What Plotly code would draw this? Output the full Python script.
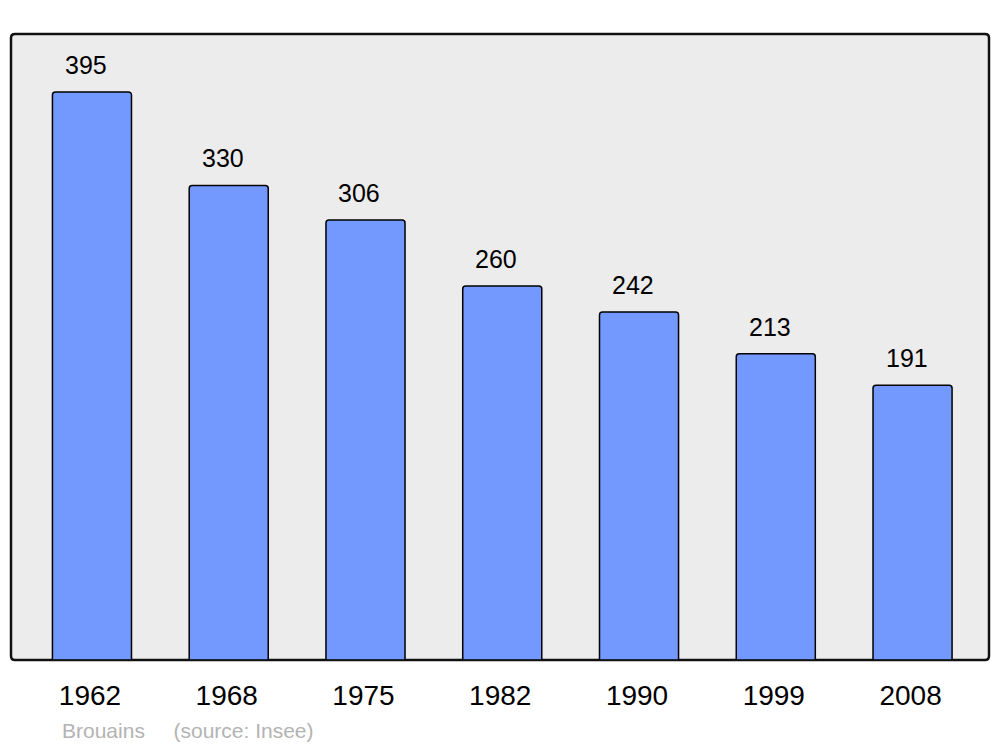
import plotly.graph_objects as go

years = ["1962", "1968", "1975", "1982", "1990", "1999", "2008"]
population = [395, 330, 306, 260, 242, 213, 191]
footer_name = "Brouains"
footer_source = "(source: Insee)"

W, H = 1000, 747
L, R, T, B = 11, 11, 34, 87
pw, ph = W - L - R, H - T - B

fig = go.Figure()
fig.add_trace(go.Bar(
    x=years, y=population,
    width=0.578,
    marker=dict(color="#7399ff", line=dict(color="#000000", width=1.5), cornerradius=3),
    hoverinfo="x+y",
))

for i, v in enumerate(population):
    fig.add_annotation(x=i, y=v, text=str(v), showarrow=False, xref="x", yref="y",
                       yanchor="bottom", yshift=11, xshift=-6,
                       font=dict(family="Liberation Sans, Arial, sans-serif", size=25, color="#000"))

fig.add_annotation(x=(60 - L) / pw, y=-(730 - (H - B)) / ph, xref="paper", yref="paper",
                   xanchor="left", yanchor="middle",
                   text=footer_name + "&nbsp;" * 4 + "&#8197;" + footer_source, showarrow=False,
                   font=dict(family="Liberation Sans, Arial, sans-serif", size=21, color="#b3b3b3"))

# rounded plot frame
rx, ry = 4 / pw, 4 / ph
path = (f"M {rx},0 L {1-rx},0 Q 1,0 1,{ry} L 1,{1-ry} Q 1,1 {1-rx},1 L {rx},1 Q 0,1 0,{1-ry} "
        f"L 0,{ry} Q 0,0 {rx},0 Z")
fig.add_shape(type="path", path=path, xref="paper", yref="paper",
              line=dict(color="#111111", width=2.5), fillcolor="#ececec", layer="below")

fig.update_layout(
    width=W, height=H,
    margin=dict(l=L, r=R, t=T, b=B),
    paper_bgcolor="#ffffff",
    plot_bgcolor="rgba(0,0,0,0)",
    showlegend=False,
    font=dict(family="Liberation Sans, Arial, sans-serif"),
    xaxis=dict(type="category", range=[-0.592, 6.559], showgrid=False, zeroline=False,
               showline=False, ticks="outside", ticklen=10, tickcolor="rgba(0,0,0,0)",
               ticklabelshift=-2,
               tickfont=dict(size=28, color="#000")),
    yaxis=dict(range=[0, 435.3], showgrid=False, zeroline=False, showline=False,
               showticklabels=False, ticks=""),
)

fig.write_html("out.html", config={"displayModeBar": False},
               post_script="document.body.style.margin='0';")
